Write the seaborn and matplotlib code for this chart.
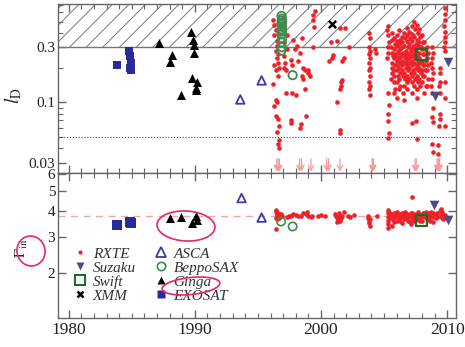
import numpy as np
import pandas as pd
import matplotlib
matplotlib.use("Agg")
import matplotlib.pyplot as plt
from matplotlib.patches import Ellipse
from matplotlib.lines import Line2D
import seaborn as sns

# ---------------- data ----------------
# top panel: l_D vs year
exosat_year = [1983.8, 1984.8, 1984.85, 1984.9, 1984.85, 1984.9]
exosat_ld = [0.21, 0.28, 0.25, 0.22, 0.20, 0.19]
ginga_year = [1987.17, 1989.66, 1989.87, 1989.9, 1989.95, 1988.15, 1988.0,
              1989.74, 1990.13, 1990.1, 1990.05, 1988.94]
ginga_ld = [0.327, 0.41, 0.35, 0.312, 0.27, 0.255, 0.222, 0.164, 0.15,
            0.134, 0.127, 0.117]
asca_year = [1993.6, 1995.29]
asca_ld = [0.106, 0.155]
sax_year = [1996.85, 1996.9, 1996.88, 1996.92, 1996.87, 1996.9, 1996.88,
            1996.9, 1996.86, 1996.9, 1996.88, 1996.9, 1996.87, 1997.75]
sax_ld = [0.28, 0.30, 0.33, 0.36, 0.39, 0.41, 0.43, 0.45, 0.47, 0.49,
          0.51, 0.53, 0.56, 0.172]
xmm_year = [2000.9]
xmm_ld = [0.48]
swift_year = [2007.95]
swift_ld = [0.26]
suzaku_year = [2010.03, 2009.05]
suzaku_ld = [0.224, 0.113]

rxte_1996 = [(1996.2, 0.52), (1996.3, 0.47), (1996.4, 0.42), (1996.3, 0.38),
             (1996.5, 0.34), (1996.5, 0.31), (1996.4, 0.28), (1996.6, 0.26),
             (1996.5, 0.24), (1996.6, 0.22), (1996.3, 0.21), (1996.7, 0.20),
             (1996.4, 0.19), (1996.6, 0.17), (1996.2, 0.145), (1996.4, 0.105),
             (1996.5, 0.10), (1996.3, 0.094), (1996.4, 0.077), (1996.6, 0.072),
             (1996.7, 0.062), (1996.55, 0.055), (1996.7, 0.047), (1996.6, 0.044),
             (1996.65, 0.040), (1997.1, 0.33), (1997.1, 0.25), (1997.15, 0.22),
             (1997.1, 0.20), (1997.2, 0.12), (1997.3, 0.38), (1997.3, 0.29),
             (1997.25, 0.19)]
rxte_1998 = [(1997.6, 0.235), (1997.7, 0.21), (1997.7, 0.12), (1997.8, 0.344),
             (1997.9, 0.29), (1998.2, 0.23), (1998.5, 0.36), (1998.6, 0.20),
             (1998.7, 0.19), (1998.8, 0.077), (1997.6, 0.07), (1997.6, 0.066),
             (1998.4, 0.065), (1998.1, 0.31), (1998.3, 0.27), (1998.5, 0.17),
             (1998.6, 0.16), (1998.7, 0.13), (1998.0, 0.115), (1998.3, 0.06),
             (1999.0, 0.18), (1999.0, 0.19), (1999.1, 0.17), (1999.4, 0.57),
             (1999.4, 0.52), (1999.45, 0.45), (1999.4, 0.30), (1999.5, 0.62)]
rxte_2001 = [(2000.6, 0.23), (2000.8, 0.33), (2000.9, 0.24), (2000.95, 0.255),
             (2001.3, 0.34), (2001.5, 0.44), (2001.8, 0.24), (2001.7, 0.23),
             (2001.6, 0.15), (2001.7, 0.155), (2001.6, 0.14), (2001.5, 0.13),
             (2001.3, 0.10), (2001.5, 0.058), (2001.5, 0.054), (2001.9, 0.44),
             (2002.2, 0.30)]
rxte_2004 = [(2003.8, 0.40), (2003.85, 0.36), (2003.8, 0.30), (2003.9, 0.28),
             (2003.8, 0.26), (2003.85, 0.24), (2003.8, 0.22), (2003.9, 0.20),
             (2003.8, 0.19), (2003.85, 0.17), (2003.8, 0.15), (2003.85, 0.14),
             (2003.8, 0.13), (2003.85, 0.115), (2004.3, 0.29), (2004.35, 0.27)]
rxte_2005 = [(2005.3, 0.46), (2005.25, 0.42), (2005.3, 0.38), (2005.35, 0.33),
             (2005.3, 0.30), (2005.3, 0.27), (2005.25, 0.24), (2005.3, 0.12),
             (2005.35, 0.095), (2005.3, 0.08), (2005.3, 0.069), (2005.35, 0.054),
             (2005.3, 0.049),
             (2005.6, 0.40), (2005.65, 0.35), (2005.55, 0.30), (2005.6, 0.27),
             (2005.7, 0.25), (2005.6, 0.22), (2005.65, 0.20), (2005.6, 0.18),
             (2005.55, 0.16),
             (2005.8, 0.36), (2005.85, 0.32), (2005.8, 0.29), (2005.9, 0.26),
             (2005.8, 0.24), (2005.85, 0.21), (2005.8, 0.19), (2005.75, 0.17),
             (2005.8, 0.15), (2005.85, 0.13), (2005.8, 0.12)]
rxte_2006 = [(2006.0, 0.38), (2006.05, 0.34), (2006.0, 0.31), (2006.1, 0.28),
             (2005.95, 0.25), (2006.0, 0.23), (2006.05, 0.21), (2006.0, 0.19),
             (2006.1, 0.17), (2006.0, 0.15), (2006.05, 0.11),
             (2006.2, 0.42), (2006.25, 0.35), (2006.2, 0.32), (2006.3, 0.29),
             (2006.15, 0.27), (2006.2, 0.24), (2006.25, 0.22), (2006.2, 0.20),
             (2006.3, 0.18), (2006.2, 0.16), (2006.25, 0.14), (2006.2, 0.13),
             (2006.4, 0.37), (2006.45, 0.33), (2006.4, 0.30), (2006.5, 0.27),
             (2006.35, 0.25), (2006.4, 0.23), (2006.45, 0.21), (2006.4, 0.19),
             (2006.5, 0.17), (2006.5, 0.12), (2006.55, 0.105),
             (2006.6, 0.40), (2006.65, 0.36), (2006.6, 0.31), (2006.7, 0.28),
             (2006.6, 0.26), (2006.65, 0.24), (2006.6, 0.22), (2006.7, 0.20),
             (2006.6, 0.18), (2006.65, 0.16), (2006.6, 0.14),
             (2006.8, 0.44), (2006.85, 0.38), (2006.8, 0.34), (2006.9, 0.30),
             (2006.75, 0.27), (2006.8, 0.25), (2006.85, 0.23), (2006.8, 0.21),
             (2006.9, 0.19), (2006.8, 0.17), (2006.85, 0.15), (2006.8, 0.13)]
rxte_2007 = [(2007.0, 0.41), (2007.05, 0.36), (2007.0, 0.32), (2007.1, 0.29),
             (2006.95, 0.26), (2007.0, 0.24), (2007.05, 0.22), (2007.0, 0.20),
             (2007.1, 0.18), (2007.0, 0.16),
             (2007.2, 0.46), (2007.25, 0.39), (2007.2, 0.34), (2007.3, 0.31),
             (2007.15, 0.28), (2007.2, 0.25), (2007.25, 0.23), (2007.2, 0.21),
             (2007.3, 0.19), (2007.2, 0.17), (2007.25, 0.15), (2007.2, 0.12),
             (2007.2, 0.066),
             (2007.4, 0.50), (2007.45, 0.43), (2007.4, 0.37), (2007.5, 0.32),
             (2007.35, 0.29), (2007.4, 0.26), (2007.45, 0.24), (2007.4, 0.22),
             (2007.5, 0.20), (2007.4, 0.18), (2007.45, 0.16), (2007.4, 0.14),
             (2007.6, 0.47), (2007.65, 0.40), (2007.6, 0.35), (2007.7, 0.31),
             (2007.55, 0.28), (2007.6, 0.25), (2007.65, 0.23), (2007.6, 0.21),
             (2007.7, 0.19), (2007.6, 0.17), (2007.65, 0.15), (2007.6, 0.13),
             (2007.6, 0.11), (2007.55, 0.069), (2007.6, 0.048),
             (2007.8, 0.43), (2007.85, 0.37), (2007.8, 0.33), (2007.9, 0.30),
             (2007.75, 0.27), (2007.8, 0.24), (2007.85, 0.22), (2007.8, 0.20),
             (2007.9, 0.18), (2007.8, 0.16), (2007.85, 0.14)]
rxte_2008 = [(2008.0, 0.38), (2008.05, 0.33), (2008.0, 0.29), (2008.1, 0.26),
             (2008.0, 0.23), (2008.05, 0.21), (2008.0, 0.19), (2008.1, 0.17),
             (2008.0, 0.15),
             (2008.2, 0.33), (2008.25, 0.29), (2008.2, 0.26), (2008.3, 0.23),
             (2008.2, 0.21), (2008.25, 0.19), (2008.2, 0.17), (2008.3, 0.14),
             (2008.2, 0.12),
             (2008.4, 0.30), (2008.45, 0.27), (2008.4, 0.24), (2008.5, 0.21),
             (2008.4, 0.19), (2008.45, 0.16), (2008.4, 0.14),
             (2008.8, 0.30), (2008.85, 0.27), (2008.8, 0.24), (2008.75, 0.22),
             (2008.8, 0.20), (2008.85, 0.18), (2008.8, 0.16), (2008.75, 0.14),
             (2008.8, 0.12), (2008.85, 0.09), (2008.8, 0.075), (2008.85, 0.068),
             (2008.8, 0.044), (2008.85, 0.037)]
rxte_2009 = [(2009.4, 0.20), (2009.45, 0.18), (2009.4, 0.15), (2009.35, 0.14),
             (2009.4, 0.12), (2009.45, 0.08), (2009.4, 0.072), (2009.35, 0.063),
             (2009.3, 0.043), (2009.3, 0.036),
             (2009.8, 0.65), (2009.85, 0.58), (2009.8, 0.52), (2009.75, 0.46),
             (2009.8, 0.41), (2009.85, 0.37), (2009.8, 0.33), (2009.75, 0.30),
             (2009.8, 0.28), (2009.85, 0.15), (2009.8, 0.11), (2009.8, 0.062)]

# RXTE upper limits (years of the downward arrows)
rxte_ul_year = [1996.5, 1996.6, 1996.7, 1998.3, 1998.45, 1999.2, 2000.45,
                2000.6, 2001.5, 2004.05, 2004.1, 2004.15, 2007.45, 2007.55,
                2009.2, 2009.3, 2009.35, 2009.4]

# bottom panel: Gamma_in vs year
exosat_g_year = [1983.84, 1984.84, 1984.9]
exosat_g = [3.44, 3.55, 3.50]
ginga_g_year = [1988.0, 1988.94, 1989.74, 1990.13, 1990.1]
ginga_g = [3.70, 3.76, 3.49, 3.62, 3.78]
asca_g_year = [1993.7, 1995.29]
asca_g = [4.62, 3.72]
sax_g_year = [1996.83, 1997.75]
sax_g = [3.56, 3.37]
swift_g_year = [2007.99]
swift_g = [3.59]
suzaku_g_year = [2008.97, 2010.03]
suzaku_g = [4.28, 3.62]

rxte_g_1996 = [(1996.4, 4.05), (1996.45, 3.95), (1996.5, 3.9), (1996.5, 3.85),
               (1996.55, 3.8), (1996.6, 3.75), (1996.4, 3.7), (1996.5, 3.65),
               (1996.7, 3.8), (1996.8, 3.85), (1996.9, 3.78), (1996.4, 3.27),
               (1996.6, 3.9), (1996.7, 3.72)]
rxte_g_1998 = [(1997.3, 3.75), (1997.5, 3.8), (1997.6, 3.78), (1997.8, 3.85),
               (1998.0, 3.82), (1998.2, 3.78), (1998.4, 3.8), (1998.6, 3.9),
               (1998.8, 3.85), (1998.9, 3.95), (1999.0, 3.8), (1999.2, 3.75),
               (1999.3, 3.8), (1999.8, 3.78), (2000.0, 3.82), (2000.3, 3.8)]
rxte_g_2001 = [(2001.1, 3.85), (2001.2, 3.8), (2001.3, 3.7), (2001.35, 3.65),
               (2001.4, 3.75), (2001.5, 3.6), (2001.45, 3.9), (2001.6, 3.7),
               (2001.7, 3.8), (2001.8, 3.95), (2001.25, 3.55), (2002.1, 3.8),
               (2002.3, 3.75), (2002.6, 3.82), (2003.7, 3.78), (2003.75, 3.7),
               (2003.8, 3.6), (2003.8, 3.5), (2003.85, 3.4), (2003.9, 3.65),
               (2004.4, 3.8)]
rxte_g_2006 = [(2005.3, 4.05), (2005.3, 3.9), (2005.3, 3.75), (2005.3, 3.6),
               (2005.3, 3.45), (2005.3, 3.3), (2005.4, 3.85), (2005.5, 3.7),
               (2005.6, 3.8), (2005.7, 3.65), (2005.8, 3.9), (2005.9, 3.75),
               (2006.0, 3.6), (2006.1, 3.82), (2006.2, 3.7), (2006.3, 3.88),
               (2006.4, 3.5), (2006.5, 3.78), (2006.6, 3.65), (2006.7, 3.85),
               (2006.8, 3.72), (2006.9, 3.58), (2005.5, 3.92), (2005.75, 3.55),
               (2006.05, 3.95), (2006.25, 3.6), (2006.45, 3.9), (2006.65, 3.95),
               (2006.85, 3.88), (2005.65, 3.4), (2006.35, 3.75), (2006.75, 3.78),
               (2005.95, 3.85), (2006.95, 3.82)]
rxte_g_2008 = [(2007.0, 3.8), (2007.1, 3.9), (2007.2, 4.67), (2007.2, 3.68),
               (2007.3, 3.75), (2007.4, 3.85), (2007.5, 3.62), (2007.6, 3.8),
               (2007.7, 3.95), (2007.8, 3.7), (2007.9, 3.82), (2008.0, 3.6),
               (2008.1, 3.78), (2008.2, 3.9), (2008.3, 3.72), (2008.4, 3.85),
               (2008.5, 3.65), (2008.6, 3.8), (2008.7, 3.95), (2008.8, 3.75),
               (2008.9, 3.55), (2009.0, 3.85), (2009.1, 3.7), (2009.2, 3.9),
               (2009.3, 3.8), (2009.4, 4.0), (2009.5, 3.75), (2009.6, 3.88),
               (2009.7, 3.65), (2009.8, 3.82), (2009.9, 3.7), (2009.5, 4.1),
               (2009.6, 3.95), (2007.05, 3.55), (2007.25, 3.92), (2007.45, 3.7),
               (2007.65, 3.88), (2007.85, 3.6), (2008.05, 3.9), (2008.25, 3.8),
               (2008.45, 3.7), (2008.65, 3.6), (2008.85, 3.9), (2007.15, 3.45),
               (2008.35, 3.95), (2008.55, 3.92), (2007.35, 3.6), (2007.75, 3.82),
               (2007.55, 3.78), (2007.95, 3.75)]

hatch_limit = 0.3
ld_dotted = 0.05
gamma_ref = 3.8
x_ticks = [1980, 1990, 2000, 2010]
ld_ticks = [0.03, 0.1, 0.3]
ld_ticklabels = ["0.03", "0.1", "0.3"]
g_ticks = [2, 3, 4, 5, 6]

# ---------------- style ----------------
sns.set_theme(style="ticks")
plt.rcParams["font.family"] = ["Liberation Serif", "DejaVu Serif"]
plt.rcParams["mathtext.fontset"] = "stix"
plt.rcParams["hatch.linewidth"] = 0.7
plt.rcParams["hatch.color"] = "#777777"

C_RXTE = "#ee2028"
C_SUZ = "#4a4a8c"
C_SWIFT = "#1d6b2c"
C_ASCA = "#3a3aae"
C_SAX = "#3f8a4c"
C_EXO = "#2a2a9a"
SPINE = "#666666"

fig = plt.figure(figsize=(4.65, 3.47), dpi=100)
W, H = 465, 347
L, R = 58, 456
ax1 = fig.add_axes([L / W, (H - 173) / H, (R - L) / W, (173 - 4) / H])
ax2 = fig.add_axes([L / W, (H - 318) / H, (R - L) / W, (318 - 173) / H], sharex=ax1)


def df_of(pairs_list):
    rows = [p for pairs in pairs_list for p in pairs]
    return pd.DataFrame(rows, columns=["year", "v"])


# ---------- top panel ----------
ax1.set_yscale("log")
ax1.set_ylim(0.0245, 0.71)
ax1.set_xlim(1979.15, 2010.7)
ax1.axhspan(hatch_limit, 1.0, facecolor="white", edgecolor="#777777",
            hatch="//", lw=0, zorder=0)
ax1.axhline(hatch_limit, color="#777777", lw=1.0, zorder=1)
ax1.axhline(ld_dotted, color="#444444", lw=0.8, ls=(0, (1, 1.6)), zorder=1)

rx_top = df_of([rxte_1996, rxte_1998, rxte_2001, rxte_2004, rxte_2005,
                rxte_2006, rxte_2007, rxte_2008, rxte_2009])
sns.scatterplot(data=rx_top, x="year", y="v", ax=ax1, color=C_RXTE, s=11,
                linewidth=0, zorder=3, legend=False)
for yr in rxte_ul_year:
    ax1.annotate("", xy=(yr, 0.0252), xytext=(yr, 0.0325),
                 arrowprops=dict(arrowstyle="->,head_length=0.3,head_width=0.16",
                                 color="#f39a9a", lw=0.9,
                                 shrinkA=0, shrinkB=0), zorder=2)

sns.scatterplot(x=exosat_year, y=exosat_ld, ax=ax1, marker="s", s=30,
                color=C_EXO, linewidth=0, zorder=4, legend=False)
sns.scatterplot(x=ginga_year, y=ginga_ld, ax=ax1, marker="^", s=42,
                color="black", linewidth=0, zorder=4, legend=False)
sns.scatterplot(x=asca_year, y=asca_ld, ax=ax1, marker="^", s=38,
                facecolor="none", edgecolor=C_ASCA, linewidth=1.3, zorder=4,
                legend=False)
sns.scatterplot(x=sax_year, y=sax_ld, ax=ax1, marker="o", s=36,
                facecolor="none", edgecolor=C_SAX, linewidth=1.3, zorder=4,
                legend=False)
sns.scatterplot(x=xmm_year, y=xmm_ld, ax=ax1, marker="x", s=28,
                color="black", linewidth=1.8, zorder=4, legend=False)
sns.scatterplot(x=swift_year, y=swift_ld, ax=ax1, marker="s", s=60,
                facecolor="none", edgecolor=C_SWIFT, linewidth=1.6, zorder=5,
                legend=False)
sns.scatterplot(x=suzaku_year, y=suzaku_ld, ax=ax1, marker="v", s=48,
                color=C_SUZ, linewidth=0, zorder=4, legend=False)

ax1.set_yticks(ld_ticks)
ax1.set_yticklabels(ld_ticklabels)
ax1.set_yticks([0.04, 0.05, 0.06, 0.07, 0.08, 0.09, 0.2, 0.4, 0.5, 0.6, 0.7],
               minor=True)
ax1.yaxis.set_minor_formatter(plt.NullFormatter())
ax1.set_ylabel(r"$l_{\rm D}$", fontsize=14)
ax1.yaxis.set_label_coords(-0.085, 0.46)
ax1.tick_params(labelbottom=False)
ax1.set_xlabel("")

# ---------- bottom panel ----------
ax2.set_yscale("log")
ax2.set_ylim(1.22, 6.1)
ax2.axhline(gamma_ref, color="#f4a6a6", lw=1.0, ls=(0, (5, 4)), zorder=1)
rx_bot = df_of([rxte_g_1996, rxte_g_1998, rxte_g_2001, rxte_g_2006,
                rxte_g_2008])
sns.scatterplot(data=rx_bot, x="year", y="v", ax=ax2, color=C_RXTE, s=11,
                linewidth=0, zorder=3, legend=False)
sns.scatterplot(x=exosat_g_year, y=exosat_g, ax=ax2, marker="s", s=42,
                color=C_EXO, linewidth=0, zorder=4, legend=False)
sns.scatterplot(x=ginga_g_year, y=ginga_g, ax=ax2, marker="^", s=42,
                color="black", linewidth=0, zorder=4, legend=False)
sns.scatterplot(x=asca_g_year, y=asca_g, ax=ax2, marker="^", s=38,
                facecolor="none", edgecolor=C_ASCA, linewidth=1.3, zorder=4,
                legend=False)
sns.scatterplot(x=sax_g_year, y=sax_g, ax=ax2, marker="o", s=36,
                facecolor="none", edgecolor=C_SAX, linewidth=1.2, zorder=4,
                legend=False)
sns.scatterplot(x=swift_g_year, y=swift_g, ax=ax2, marker="s", s=60,
                facecolor="none", edgecolor=C_SWIFT, linewidth=1.6, zorder=5,
                legend=False)
sns.scatterplot(x=suzaku_g_year, y=suzaku_g, ax=ax2, marker="v", s=48,
                color=C_SUZ, linewidth=0, zorder=4, legend=False)

ax2.set_yticks(g_ticks)
ax2.set_yticklabels([str(t) for t in g_ticks])
ax2.yaxis.set_minor_locator(plt.NullLocator())
ax2.set_xticks(x_ticks)
ax2.set_xticklabels([str(t) for t in x_ticks])
ax2.set_xticks(np.arange(1980, 2011), minor=True)
ax2.set_xlim(1979.15, 2010.7)
ax2.set_xlabel("")
ax2.set_ylabel(r"$\Gamma_{\rm in}$", fontsize=11)
ax2.yaxis.set_label_coords(-0.07, 0.48)

for ax in (ax1, ax2):
    for sp in ax.spines.values():
        sp.set_color(SPINE)
        sp.set_linewidth(1.0)
    ax.tick_params(which="both", direction="in", top=True, right=True,
                   color=SPINE)
    ax.tick_params(which="major", length=6, width=1.0)
    ax.tick_params(which="minor", length=3.5, width=0.8)
    ax.tick_params(axis="x", labelsize=12.5, labelcolor="#222222", pad=3)
    ax.tick_params(axis="y", labelsize=11, labelcolor="#222222", pad=2)

# ---------- legend ----------
lab = ["RXTE", "Suzaku", "Swift", "XMM", "ASCA", "BeppoSAX", "Ginga", "EXOSAT"]
hnd = [
    Line2D([], [], ls="", marker="o", ms=3, color=C_RXTE, mec="none"),
    Line2D([], [], ls="", marker="v", ms=6, color=C_SUZ, mec="none"),
    Line2D([], [], ls="", marker="s", ms=6.5, mfc="none", mec=C_SWIFT, mew=1.5),
    Line2D([], [], ls="", marker="x", ms=5, color="black", mew=1.8),
    Line2D([], [], ls="", marker="^", ms=6.5, mfc="none", mec=C_ASCA, mew=1.3),
    Line2D([], [], ls="", marker="o", ms=6, mfc="none", mec=C_SAX, mew=1.2),
    Line2D([], [], ls="", marker="^", ms=6, color="black", mec="none"),
    Line2D([], [], ls="", marker="s", ms=5.5, color=C_EXO, mec="none"),
]
leg = ax2.legend(hnd, lab, ncol=2, loc="upper left",
                 bbox_to_anchor=(0.036, 0.49), frameon=False,
                 prop={"family": "Liberation Serif", "style": "italic",
                       "size": 11}, handlelength=1.0, handletextpad=0.35,
                 labelspacing=0.02, columnspacing=1.1, borderpad=0,
                 borderaxespad=0)
for t in leg.get_texts():
    t.set_color("#333333")

# ---------- hand-drawn highlight circles ----------
MAG = "#e5266e"
for (cx, cy, w, h, ang) in [(31, 251, 28, 30, 15), (186, 226, 58, 30, -3),
                            (191, 286, 58, 17, 6)]:
    fig.add_artist(Ellipse((cx / 100, (H - cy) / 100), w / 100, h / 100,
                           angle=ang, transform=fig.dpi_scale_trans,
                           fill=False, ec=MAG, lw=1.2))

fig.savefig("out.png", dpi=100)
